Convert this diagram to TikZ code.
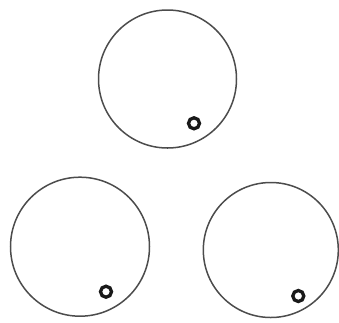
\documentclass[tikz,border=0pt]{standalone}
\begin{document}
\begin{tikzpicture}[x=1pt,y=-1pt,
  bigc/.style={circle,draw=black!70,line width=1.5pt,inner sep=0pt,minimum size=138pt},
  ring/.style={circle,draw=black!90,line width=3.3pt,inner sep=0pt,minimum size=11pt}]
\useasboundingbox (0,0) rectangle (339,322);
\node[bigc] (top) at (167.5,79) {};
\node[bigc,minimum size=139pt] (left) at (80,246.7) {};
\node[bigc,minimum size=135pt] (right) at (270.8,250) {};
\node[ring] (rtop) at (194,123.3) {};
\node[ring] (rleft) at (106,291.7) {};
\node[ring] (rright) at (298.3,296) {};
\end{tikzpicture}
\end{document}
